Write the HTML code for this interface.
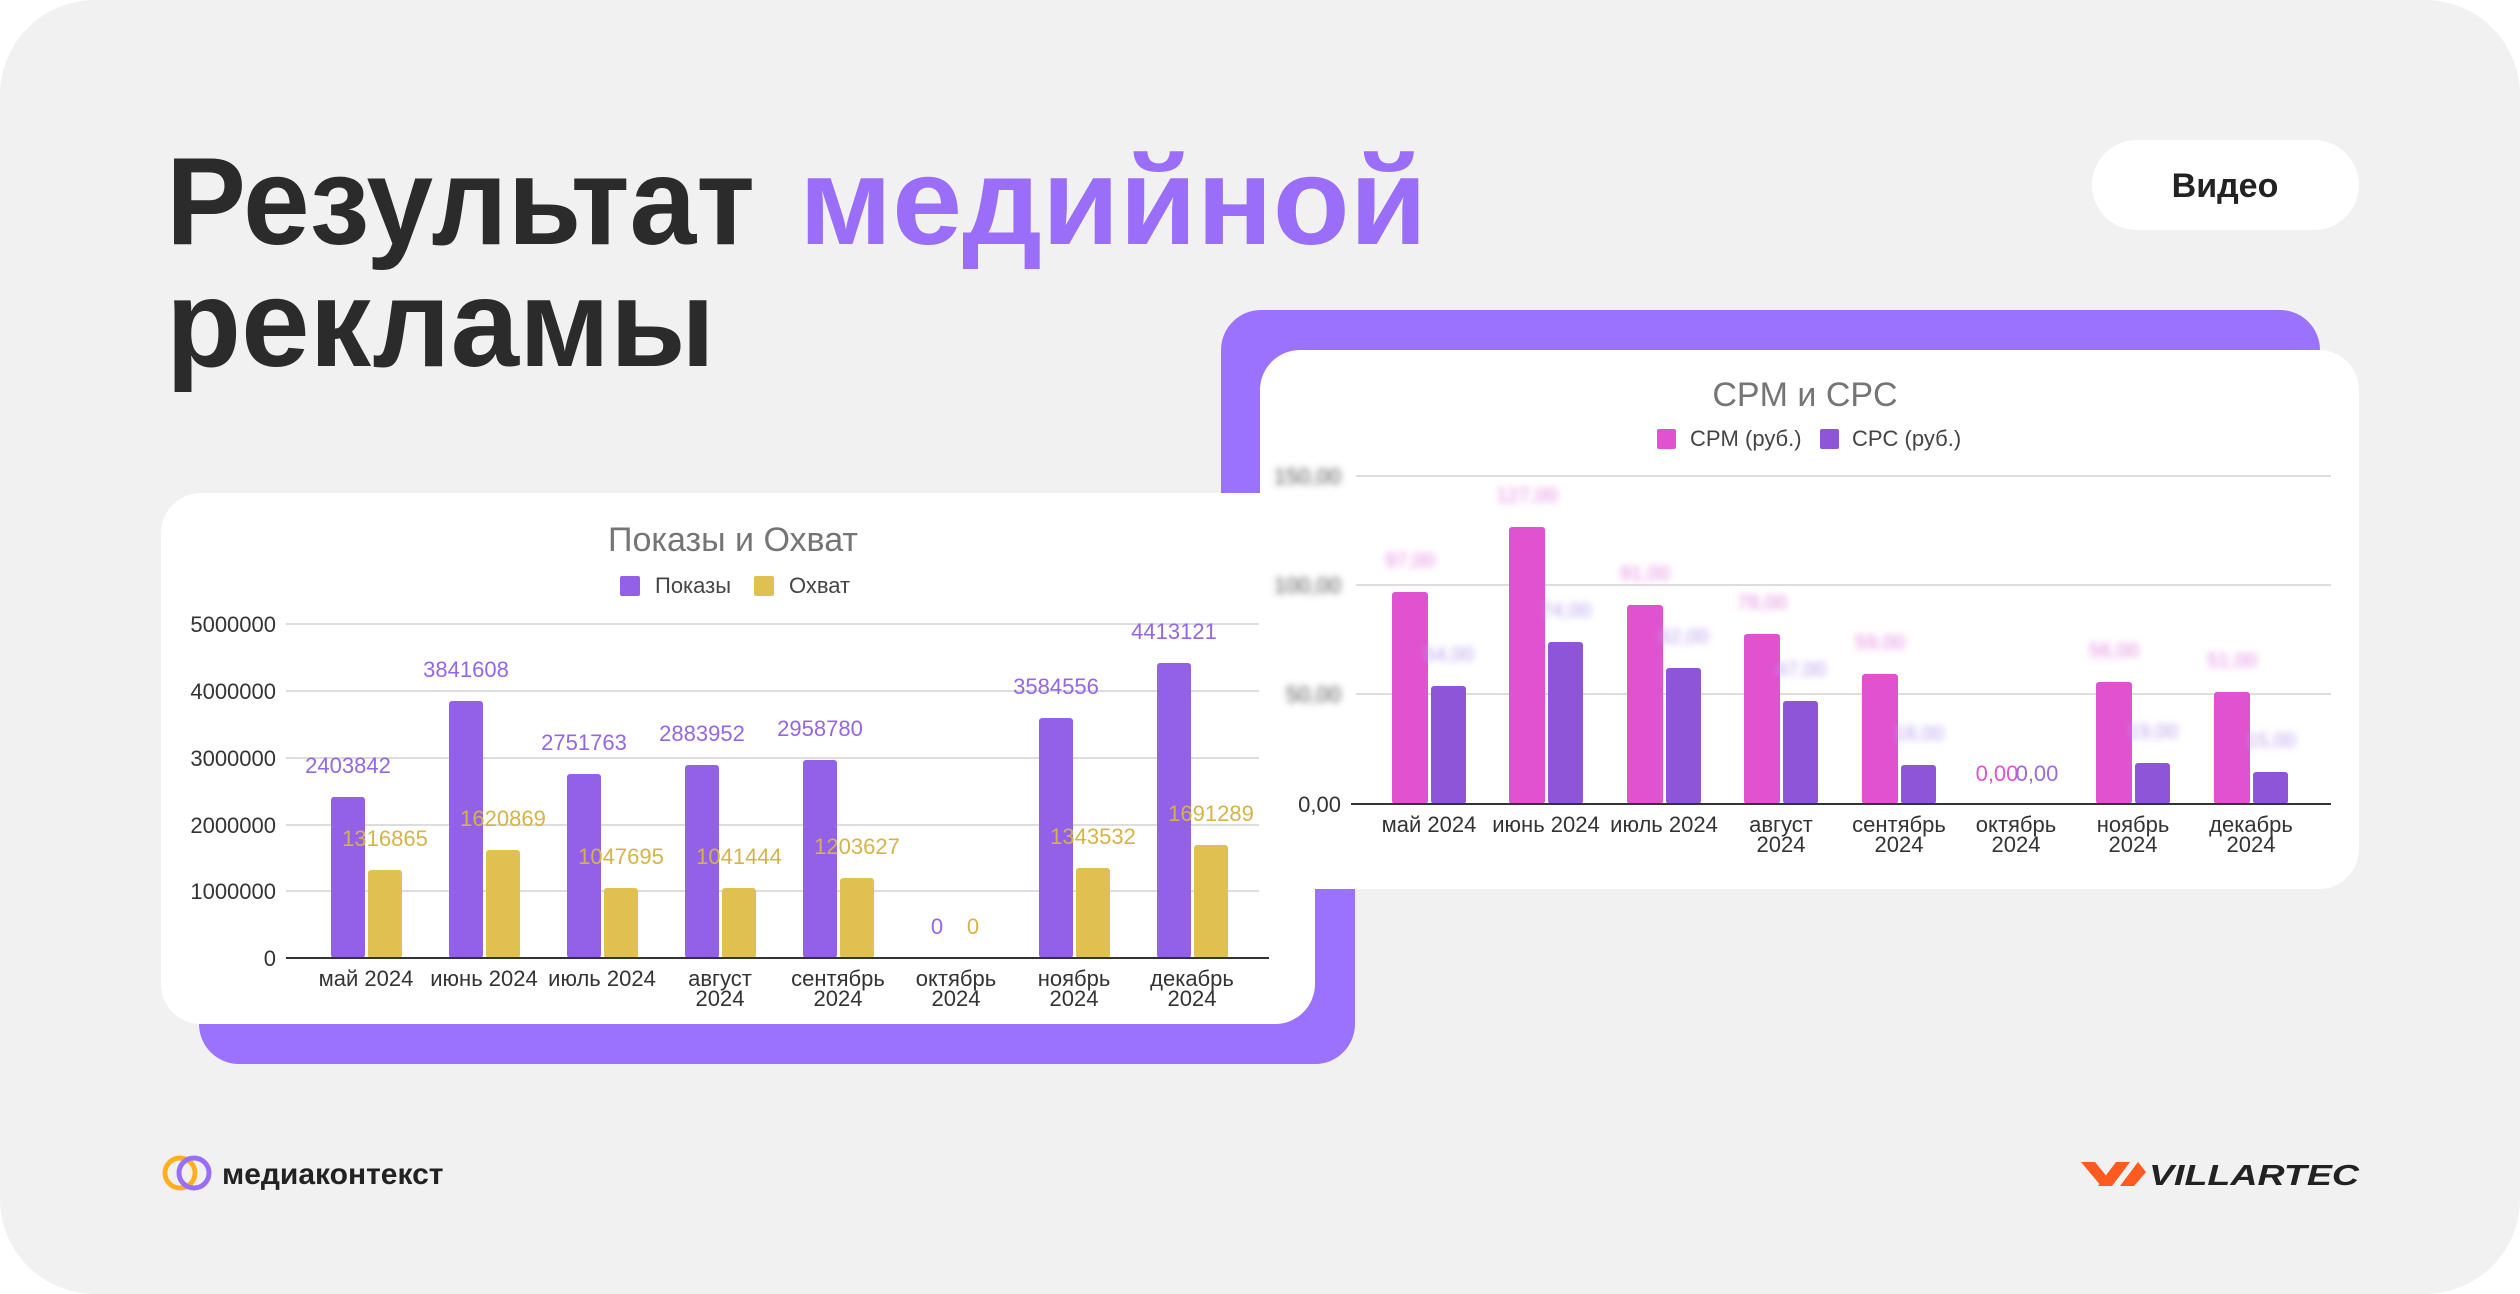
<!DOCTYPE html>
<html><head><meta charset="utf-8"><style>
html,body{margin:0;padding:0;background:#fff;}
svg{display:block;font-family:"Liberation Sans",sans-serif;}
.blur{filter:url(#b);}
</style></head><body>
<svg width="2520" height="1294" viewBox="0 0 2520 1294" xmlns="http://www.w3.org/2000/svg">
<defs><filter id="b" x="-50%" y="-50%" width="200%" height="200%"><feGaussianBlur stdDeviation="3.5"/></filter></defs>
<rect x="0" y="0" width="2520" height="1294" rx="95" fill="#f1f1f1"/>

<!-- title -->
<text x="166" y="244" font-size="124" font-weight="bold" fill="#2b2b2b" textLength="589" lengthAdjust="spacingAndGlyphs">Результат</text>
<text x="799" y="244" font-size="124" font-weight="bold" fill="#9a6ef9" textLength="628" lengthAdjust="spacingAndGlyphs">медийной</text>
<text x="166" y="366" font-size="124" font-weight="bold" fill="#2b2b2b" textLength="549" lengthAdjust="spacingAndGlyphs">рекламы</text>

<!-- pill -->
<rect x="2092" y="140" width="267" height="90" rx="45" fill="#fff"/>
<text x="2225" y="197" font-size="34" font-weight="bold" fill="#222" text-anchor="middle">Видео</text>

<!-- right purple back -->
<rect x="1221" y="310" width="1099" height="560" rx="40" fill="#9a72fd"/>
<!-- left purple back -->
<rect x="199" y="600" width="1156" height="464" rx="40" fill="#9a72fd"/>
<!-- left card -->
<rect x="161" y="493" width="1154" height="531" rx="40" fill="#fff"/>

<g font-size="22">
<text x="733" y="551" font-size="34" fill="#757575" text-anchor="middle">Показы и Охват</text>
<rect x="620" y="576" width="20" height="20" rx="2" fill="#9360e8"/>
<text x="655" y="593" fill="#444">Показы</text>
<rect x="754" y="576" width="20" height="20" rx="2" fill="#e0c050"/>
<text x="789" y="593" fill="#444">Охват</text>
<g stroke="#ddd" stroke-width="2">
<line x1="286" y1="624" x2="1259" y2="624"/><line x1="286" y1="691" x2="1259" y2="691"/>
<line x1="286" y1="758" x2="1259" y2="758"/><line x1="286" y1="825" x2="1259" y2="825"/>
<line x1="286" y1="891" x2="1259" y2="891"/>
</g>
<g fill="#333" text-anchor="end">
<text x="276" y="632">5000000</text><text x="276" y="699">4000000</text><text x="276" y="766">3000000</text>
<text x="276" y="833">2000000</text><text x="276" y="899">1000000</text><text x="276" y="966">0</text>
</g>
<g fill="#9360e8">
<rect x="331" y="797" width="34" height="161" rx="3"/><rect x="449" y="701" width="34" height="257" rx="3"/>
<rect x="567" y="774" width="34" height="184" rx="3"/><rect x="685" y="765" width="34" height="193" rx="3"/>
<rect x="803" y="760" width="34" height="198" rx="3"/><rect x="1039" y="718" width="34" height="240" rx="3"/>
<rect x="1157" y="663" width="34" height="295" rx="3"/>
</g>
<g fill="#e0c050">
<rect x="368" y="870" width="34" height="88" rx="3"/><rect x="486" y="850" width="34" height="108" rx="3"/>
<rect x="604" y="888" width="34" height="70" rx="3"/><rect x="722" y="888" width="34" height="70" rx="3"/>
<rect x="840" y="878" width="34" height="80" rx="3"/><rect x="1076" y="868" width="34" height="90" rx="3"/>
<rect x="1194" y="845" width="34" height="113" rx="3"/>
</g>
<g fill="#9466e6" text-anchor="middle">
<text x="348" y="773">2403842</text><text x="466" y="677">3841608</text><text x="584" y="750">2751763</text>
<text x="702" y="741">2883952</text><text x="820" y="736">2958780</text><text x="937" y="934">0</text>
<text x="1056" y="694">3584556</text><text x="1174" y="639">4413121</text>
</g>
<g fill="#d4b44a" text-anchor="middle">
<text x="385" y="846">1316865</text><text x="503" y="826">1620869</text><text x="621" y="864">1047695</text>
<text x="739" y="864">1041444</text><text x="857" y="854">1203627</text><text x="973" y="934">0</text>
<text x="1093" y="844">1343532</text><text x="1211" y="821">1691289</text>
</g>
<line x1="286" y1="958" x2="1269" y2="958" stroke="#333" stroke-width="2"/>
<g fill="#333" text-anchor="middle">
<text x="366" y="986">май 2024</text><text x="484" y="986">июнь 2024</text><text x="602" y="986">июль 2024</text>
<text x="720" y="986">август</text><text x="720" y="1006">2024</text>
<text x="838" y="986">сентябрь</text><text x="838" y="1006">2024</text>
<text x="956" y="986">октябрь</text><text x="956" y="1006">2024</text>
<text x="1074" y="986">ноябрь</text><text x="1074" y="1006">2024</text>
<text x="1192" y="986">декабрь</text><text x="1192" y="1006">2024</text>
</g>
</g>

<!-- right card -->
<rect x="1260" y="350" width="1099" height="539" rx="40" fill="#fff"/>
<g font-size="22">
<text x="1805" y="406" font-size="34" fill="#757575" text-anchor="middle">CPM и CPC</text>
<rect x="1657" y="429" width="19" height="20" rx="2" fill="#e052cf"/>
<text x="1690" y="446" fill="#444">CPM (руб.)</text>
<rect x="1820" y="429" width="19" height="20" rx="2" fill="#8e55d8"/>
<text x="1852" y="446" fill="#444">CPC (руб.)</text>
<g stroke="#ddd" stroke-width="2">
<line x1="1356" y1="476" x2="2331" y2="476"/><line x1="1356" y1="585" x2="2331" y2="585"/>
<line x1="1356" y1="694" x2="2331" y2="694"/>
</g>
<g fill="#555" text-anchor="end" class="blur">
<text x="1341" y="484">150,00</text><text x="1341" y="593">100,00</text><text x="1341" y="702">50,00</text>
</g>
<text x="1341" y="812" fill="#333" text-anchor="end">0,00</text>
<g fill="#e052cf">
<rect x="1392" y="592" width="36" height="212" rx="3"/><rect x="1509" y="527" width="36" height="277" rx="3"/>
<rect x="1627" y="605" width="36" height="199" rx="3"/><rect x="1744" y="634" width="36" height="170" rx="3"/>
<rect x="1862" y="674" width="36" height="130" rx="3"/><rect x="2096" y="682" width="36" height="122" rx="3"/>
<rect x="2214" y="692" width="36" height="112" rx="3"/>
</g>
<g fill="#8e55d8">
<rect x="1431" y="686" width="35" height="118" rx="3"/><rect x="1548" y="642" width="35" height="162" rx="3"/>
<rect x="1666" y="668" width="35" height="136" rx="3"/><rect x="1783" y="701" width="35" height="103" rx="3"/>
<rect x="1901" y="765" width="35" height="39" rx="3"/><rect x="2135" y="763" width="35" height="41" rx="3"/>
<rect x="2253" y="772" width="35" height="32" rx="3"/>
</g>
<g class="blur" text-anchor="middle" font-size="20">
<g fill="#e48ae0">
<text x="1410" y="567">97,00</text><text x="1527" y="502">127,00</text><text x="1645" y="580">91,00</text>
<text x="1762" y="609">78,00</text><text x="1880" y="649">59,00</text><text x="2114" y="657">56,00</text>
<text x="2232" y="667">51,00</text>
</g>
<g fill="#b9a0ec">
<text x="1449" y="661">54,00</text><text x="1566" y="617">74,00</text><text x="1684" y="643">62,00</text>
<text x="1801" y="676">47,00</text><text x="1919" y="740">18,00</text><text x="2153" y="738">19,00</text>
<text x="2271" y="747">15,00</text>
</g>
</g>
<text x="1997" y="781" fill="#e052cf" text-anchor="middle">0,00</text>
<text x="2037" y="781" fill="#9a6ae0" text-anchor="middle">0,00</text>
<line x1="1351" y1="804" x2="2331" y2="804" stroke="#333" stroke-width="2"/>
<g fill="#333" text-anchor="middle">
<text x="1429" y="832">май 2024</text><text x="1546" y="832">июнь 2024</text><text x="1664" y="832">июль 2024</text>
<text x="1781" y="832">август</text><text x="1781" y="852">2024</text>
<text x="1899" y="832">сентябрь</text><text x="1899" y="852">2024</text>
<text x="2016" y="832">октябрь</text><text x="2016" y="852">2024</text>
<text x="2133" y="832">ноябрь</text><text x="2133" y="852">2024</text>
<text x="2251" y="832">декабрь</text><text x="2251" y="852">2024</text>
</g>
</g>

<!-- footer logos -->
<circle cx="180" cy="1173" r="15" fill="none" stroke="#ffb020" stroke-width="5"/>
<circle cx="194" cy="1173" r="15" fill="none" stroke="#9a6ef9" stroke-width="5"/>
<text x="222" y="1184" font-size="30" font-weight="bold" fill="#222">медиаконтекст</text>
<path d="M2081 1162 L2095 1162 L2108 1178 L2101 1186 Z" fill="#ff5a1f"/>
<path d="M2098 1186 L2116 1162 L2130 1162 L2112 1186 Z" fill="#ff5a1f"/>
<path d="M2120 1186 L2138 1162 L2146 1172 L2134 1186 Z" fill="#ff5a1f"/>
<text x="2149" y="1185" font-size="29" font-weight="bold" font-style="italic" fill="#222" textLength="210" lengthAdjust="spacingAndGlyphs">VILLARTEC</text>
</svg>
</body></html>
